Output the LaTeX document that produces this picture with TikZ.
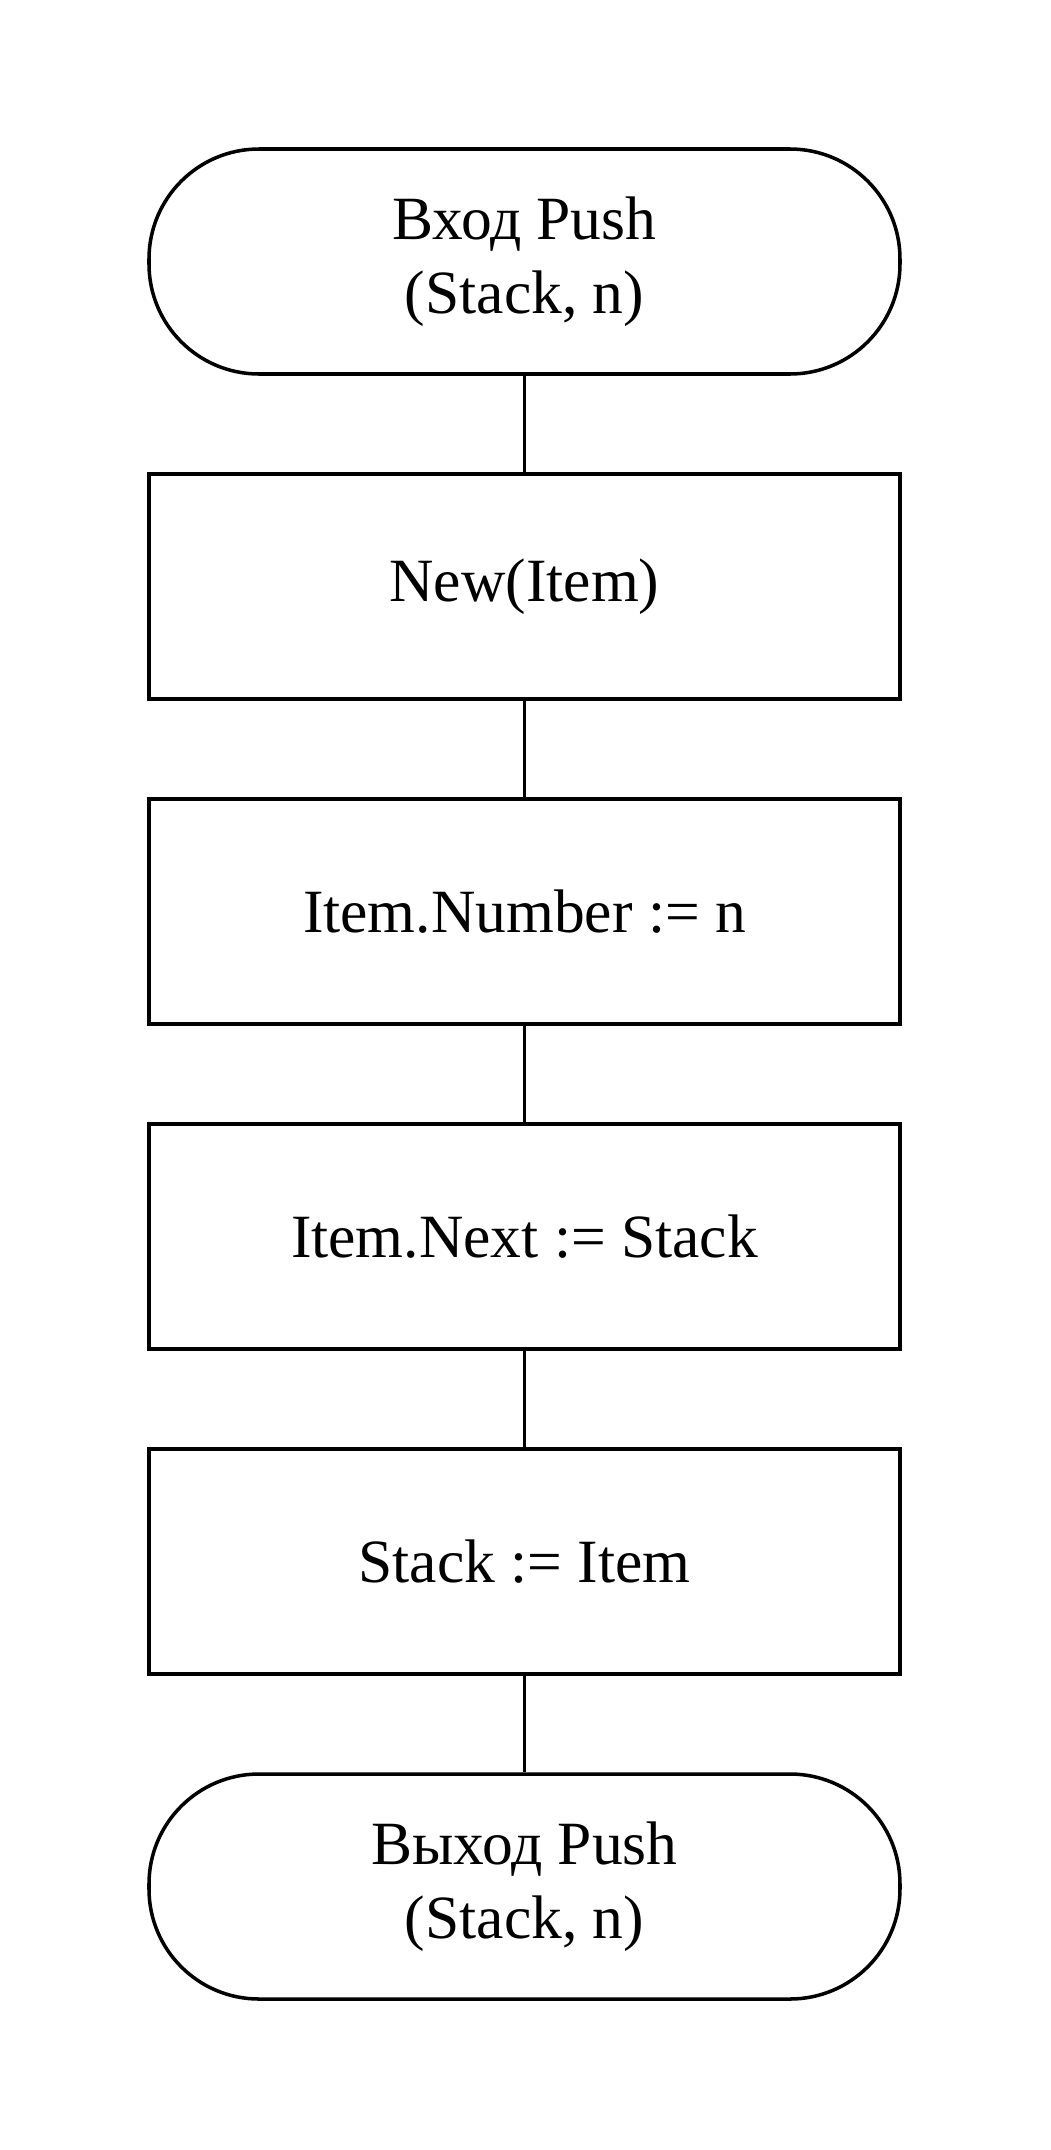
\documentclass[tikz,border=0pt]{standalone}
\usepackage{fontspec}
\setmainfont{Liberation Serif}
\usepackage{tikz}

\begin{document}
\begin{tikzpicture}[node distance=6.5cm, line width=2pt,
                    block/.style={rectangle, draw, minimum width=15.02cm, minimum height=4.5cm, font=\fontsize{35pt}{42pt}\selectfont},
                    startstop/.style={block, rounded corners=2.2cm, align=center}]
                    \useasboundingbox (-10.49,5.23) rectangle (10.51,-37.77);

                    \node (start) [startstop] {Вход Push\\(Stack, n)};
                    \node (new) [block, below of=start] {New(Item)};
                    \node (num) [block, below of=new] {Item.Number := n};
                    \node (next) [block, below of=num] {Item.Next := Stack};
                    \node (top) [block, below of=next] {Stack := Item};
                    \node (stop) [startstop, below of=top] {Выход Push\\(Stack, n)};

                    \draw (start) -- (new);
                    \draw (new) -- (num);
                    \draw (num) -- (next);
                    \draw (next) -- (top);
                    \draw (top) -- (stop);

                \end{tikzpicture}
\end{document}
